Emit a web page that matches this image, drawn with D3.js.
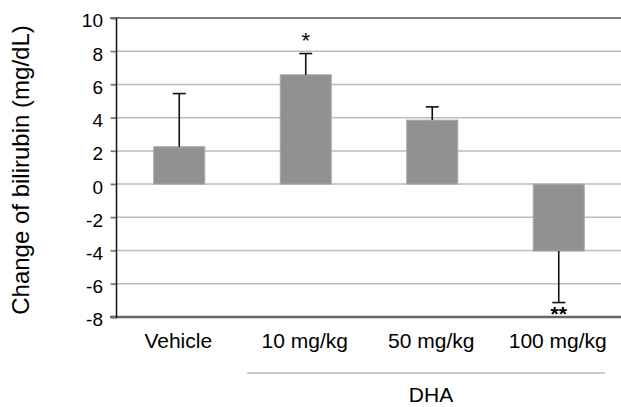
<!DOCTYPE html>
<html><head><meta charset="utf-8">
<script src="https://cdn.jsdelivr.net/npm/d3@7"></script>
<style>body{margin:0;background:#fff;}svg{display:block;font-family:"Liberation Sans",Arial,Helvetica,sans-serif;}</style>
</head><body><svg id="c" width="621" height="407"></svg>
<script>
const categories = ["Vehicle", "10 mg/kg", "50 mg/kg", "100 mg/kg"];
const values = [2.25, 6.58, 3.85, -4.03];
const errors = [3.2, 1.28, 0.8, 3.1];
const significance = ["", "*", "", "**"];
const yTicks = [-8, -6, -4, -2, 0, 2, 4, 6, 8, 10];
const yLabel = "Change of bilirubin (mg/dL)";
const groupLabel = "DHA";

const svg = d3.select("#c");
const x = d3.scaleBand().domain(categories).range([116, 622]);
const y = d3.scaleLinear().domain([-8, 10]).range([317, 18]);
const bw = 51;

// gridlines
svg.append("g").selectAll("line").data(yTicks.filter(t => t > -8 && t < 10)).join("line")
  .attr("x1", 110).attr("x2", 621).attr("y1", d => y(d)).attr("y2", d => y(d))
  .attr("stroke", "#bdbdbd").attr("stroke-width", 1.5);
// top border
svg.append("line").attr("x1", 110).attr("x2", 621).attr("y1", y(10)).attr("y2", y(10))
  .attr("stroke", "#555").attr("stroke-width", 1.5);
// bottom border
svg.append("line").attr("x1", 110).attr("x2", 621).attr("y1", y(-8)).attr("y2", y(-8))
  .attr("stroke", "#666").attr("stroke-width", 2.5);

// bars
svg.append("g").selectAll("rect").data(categories).join("rect")
  .attr("x", (d) => x(d) + x.bandwidth() / 2 - bw / 2)
  .attr("width", bw)
  .attr("y", (d, i) => y(Math.max(0, values[i])))
  .attr("height", (d, i) => Math.abs(y(values[i]) - y(0)))
  .attr("fill", "#919191").attr("stroke", "#a8a8a8").attr("stroke-width", 1);

// error bars
const eg = svg.append("g").attr("stroke", "#111").attr("stroke-width", 1.6);
categories.forEach((c, i) => {
  const cx = x(c) + x.bandwidth() / 2;
  const v = values[i];
  const e = v >= 0 ? v + errors[i] : v - errors[i];
  eg.append("line").attr("x1", cx).attr("x2", cx).attr("y1", y(v)).attr("y2", y(e));
  eg.append("line").attr("x1", cx - 6.5).attr("x2", cx + 6.5).attr("y1", y(e)).attr("y2", y(e));
});

// y axis
const yAxis = d3.axisLeft(y).tickValues(yTicks).tickSize(5).tickPadding(8).tickFormat(d => String(d));
const ya = svg.append("g").attr("transform", "translate(116,0)").call(yAxis);
ya.select(".domain").attr("stroke", "#111").attr("stroke-width", 1.5);
ya.selectAll(".tick line").attr("stroke", "#777").attr("stroke-width", 1.5);
ya.selectAll(".tick text").attr("font-size", 19).attr("fill", "#000").attr("dy", "0.47em")
  .attr("font-family", "Liberation Sans, Arial, sans-serif").attr("x", -13);

// category labels
svg.append("g").selectAll("text").data(categories).join("text")
  .attr("x", d => x(d) + x.bandwidth() / 2 - 1)
  .attr("y", 348).attr("text-anchor", "middle").attr("font-size", 21).attr("fill", "#000")
  .text(d => d);

// significance marks
categories.forEach((c, i) => {
  if (!significance[i]) return;
  const cx = x(c) + x.bandwidth() / 2;
  const v = values[i];
  const e = v >= 0 ? v + errors[i] : v - errors[i];
  svg.append("text").attr("x", cx).attr("text-anchor", "middle")
    .attr("y", v >= 0 ? y(e) - 6 : y(e) + 18)
    .attr("font-size", v >= 0 ? 22 : 21).attr("font-weight", v >= 0 ? "normal" : "bold")
    .attr("fill", "#000").text(significance[i]);
});

// group bracket line and label
svg.append("line").attr("x1", 247).attr("x2", 605).attr("y1", 373).attr("y2", 373)
  .attr("stroke", "#999").attr("stroke-width", 1);
svg.append("text").attr("x", 431).attr("y", 402).attr("text-anchor", "middle")
  .attr("font-size", 21).attr("fill", "#000").text(groupLabel);

// y label
svg.append("text").attr("transform", "translate(28.5,170) rotate(-90)")
  .attr("text-anchor", "middle").attr("font-size", 24).attr("fill", "#000").text(yLabel);
</script></body></html>
